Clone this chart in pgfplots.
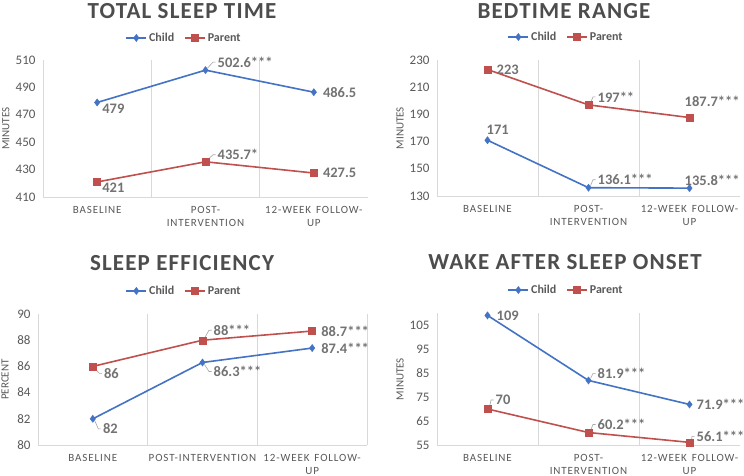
\documentclass[border=0pt]{standalone}
\usepackage{fontspec}
\setmainfont{Carlito}
\usepackage{pgfplots}
\pgfplotsset{compat=1.18}
\definecolor{cblue}{HTML}{4472C4}
\definecolor{cred}{HTML}{C0504D}
\definecolor{gridc}{HTML}{D9D9D9}
\definecolor{tickc}{HTML}{595959}
\definecolor{labc}{HTML}{737373}
\definecolor{titc}{HTML}{4D4D4D}
\definecolor{ldc}{HTML}{A6A6A6}
\newcommand\xtf{\fontsize{11bp}{12.5bp}\selectfont\addfontfeature{LetterSpace=8}}
\newcommand\ytf{\fontsize{13bp}{15bp}\selectfont}
\newcommand\dlf{\fontsize{14.5bp}{16bp}\selectfont\bfseries}
\newcommand\ttf{\fontsize{23bp}{26bp}\selectfont\bfseries\addfontfeature{LetterSpace=5}}
\newcommand\lgf{\fontsize{12bp}{14bp}\selectfont\bfseries}
\newcommand\ldr[5]{\draw[ldc, line width=0.6bp] ([shift={(2bp,#5)}]axis cs:#1,#2) -- ([shift={(#3-4.5bp,#4)}]axis cs:#1,#2) -- ([shift={(#3-2bp,#4)}]axis cs:#1,#2);}
\tikzset{dl/.style={font=\dlf, text=labc, anchor=west, inner sep=0pt}}
\pgfplotsset{
  panel/.style={
    scale only axis,
    xmin=-0.5, xmax=2.5,
    xtick={0,1,2},
    axis x line*=bottom, axis y line*=left,
    axis line style={draw=gridc, line width=0.75bp},
    major tick length=0pt,
    tick style={draw=none},
    clip=false,
    /pgf/number format/assume math mode=true,
    yticklabel style={font=\ytf, text=tickc, xshift=-4bp},
    xticklabel style={font=\xtf, text=tickc, align=center, yshift=-6bp},
    ylabel style={font=\fontsize{11bp}{13bp}\selectfont, text=tickc, anchor=center},
    extra x tick labels={},
    extra x tick style={grid=major, major grid style={draw=gridc, line width=0.75bp}},
    legend columns=2,
    legend style={draw=none, fill=none, font=\lgf, text=tickc, anchor=center, /tikz/every even column/.append style={column sep=8bp}},
    legend image code/.code={\draw[mark repeat=2, mark phase=2, ##1] plot coordinates {(0bp,0bp) (10bp,0bp) (20bp,0bp)};},
  },
  child/.style={cblue, line width=1.6bp, mark=diamond*, mark size=3.6bp, mark options={solid, line width=0.4bp, fill=cblue, draw=cblue}},
  parent/.style={cred, line width=1.6bp, mark=square*, mark size=3.5bp, mark options={solid, line width=0.4bp, fill=cred, draw=cred}},
}
\begin{document}
\begin{tikzpicture}
\fill[white] (0,0) rectangle (744bp,-476bp);
\useasboundingbox (0,0) rectangle (744bp,-476bp);

% Panel 1: Total sleep time
\begin{axis}[panel, at={(43bp,-197bp)}, anchor=south west, width=325bp, height=137bp,
  ymin=410, ymax=510, ytick={410,430,...,510},
  extra x ticks={0.5,1.5},
  xticklabels={BASELINE,{POST-\\INTERVENTION},{12-WEEK\hspace{5bp}FOLLOW-\\UP}},
  ylabel={MINUTES}, ylabel style={at={(axis description cs:-0.114,0.5)}},
  legend style={at={(axis description cs:0.434,1.161)}}]
\addplot[child] coordinates {(0,479) (1,502.6) (2,486.5)};
\addlegendentry{Child}
\addplot[parent] coordinates {(0,421) (1,435.7) (2,427.5)};
\addlegendentry{Parent}
\node[dl, xshift=5bp, yshift=-6bp] at (axis cs:0,479) {479};
\node[dl, xshift=12bp, yshift=8bp] at (axis cs:1,502.6) {502.6***};
\ldr{1}{502.6}{12bp}{8bp}{2bp}
\node[dl, xshift=9bp] at (axis cs:2,486.5) {486.5};
\node[dl, xshift=5bp, yshift=-6bp] at (axis cs:0,421) {421};
\node[dl, xshift=12bp, yshift=7bp] at (axis cs:1,435.7) {435.7*};
\ldr{1}{435.7}{12bp}{7bp}{2bp}
\node[dl, xshift=9bp] at (axis cs:2,427.5) {427.5};
\end{axis}

% Panel 2: Bedtime range
\begin{axis}[panel, at={(437bp,-196bp)}, anchor=south west, width=303bp, height=136bp,
  ymin=130, ymax=230, ytick={130,150,...,230},
  extra x ticks={0.5,1.5},
  xticklabels={BASELINE,{POST-\\INTERVENTION},{12-WEEK\hspace{5bp}FOLLOW-\\UP}},
  ylabel={MINUTES}, ylabel style={at={(axis description cs:-0.122,0.5)}},
  legend style={at={(axis description cs:0.426,1.169)}}]
\addplot[child] coordinates {(0,171) (1,136.1) (2,135.8)};
\addlegendentry{Child}
\addplot[parent] coordinates {(0,223) (1,197) (2,187.7)};
\addlegendentry{Parent}
\node[dl, xshift=9bp] at (axis cs:0,223) {223};
\node[dl, xshift=9bp, yshift=8bp] at (axis cs:1,197) {197**};
\ldr{1}{197}{9bp}{8bp}{2bp}
\node[dl, xshift=-5bp, yshift=16bp] at (axis cs:2,187.7) {187.7***};
\node[dl, xshift=-1bp, yshift=10bp] at (axis cs:0,171) {171};
\node[dl, xshift=9bp, yshift=8bp] at (axis cs:1,136.1) {136.1***};
\ldr{1}{136.1}{9bp}{8bp}{2bp}
\node[dl, xshift=-5bp, yshift=8bp] at (axis cs:2,135.8) {135.8***};
\end{axis}

% Panel 3: Sleep efficiency
\begin{axis}[panel, at={(38bp,-445bp)}, anchor=south west, width=329bp, height=131bp,
  ymin=80, ymax=90, ytick={80,82,...,90},
  extra x ticks={0.5,1.5,2.5},
  xticklabels={BASELINE,POST-INTERVENTION,{12-WEEK\hspace{5bp}FOLLOW-\\UP}},
  ylabel={PERCENT}, ylabel style={at={(axis description cs:-0.1,0.5)}},
  legend style={at={(axis description cs:0.444,1.176)}}]
\addplot[child] coordinates {(0,82) (1,86.3) (2,87.4)};
\addlegendentry{Child}
\addplot[parent] coordinates {(0,86) (1,88) (2,88.7)};
\addlegendentry{Parent}
\node[dl, xshift=11bp, yshift=-7bp] at (axis cs:0,86) {86};
\ldr{0}{86}{11bp}{-7bp}{-2bp}
\node[dl, xshift=11bp, yshift=10bp] at (axis cs:1,88) {88***};
\ldr{1}{88}{11bp}{10bp}{2bp}
\node[dl, xshift=9bp] at (axis cs:2,88.7) {88.7***};
\node[dl, xshift=10bp, yshift=-10bp] at (axis cs:0,82) {82};
\ldr{0}{82}{10bp}{-10bp}{-2bp}
\node[dl, xshift=11bp, yshift=-9bp] at (axis cs:1,86.3) {86.3***};
\ldr{1}{86.3}{11bp}{-9bp}{-2bp}
\node[dl, xshift=9bp] at (axis cs:2,87.4) {87.4***};
\end{axis}

% Panel 4: Wake after sleep onset
\begin{axis}[panel, at={(437bp,-445bp)}, anchor=south west, width=303bp, height=132bp,
  ymin=55, ymax=110, ytick={55,65,...,105},
  extra x ticks={0.5,1.5},
  xticklabels={BASELINE,{POST-\\INTERVENTION},{12-WEEK\hspace{5bp}FOLLOW-\\UP}},
  ylabel={MINUTES}, ylabel style={at={(axis description cs:-0.122,0.5)}},
  legend style={at={(axis description cs:0.426,1.174)}}]
\addplot[child] coordinates {(0,109) (1,81.9) (2,71.9)};
\addlegendentry{Child}
\addplot[parent] coordinates {(0,70) (1,60.2) (2,56.1)};
\addlegendentry{Parent}
\node[dl, xshift=9bp] at (axis cs:0,109) {109};
\node[dl, xshift=9bp, yshift=7bp] at (axis cs:1,81.9) {81.9***};
\ldr{1}{81.9}{9bp}{7bp}{2bp}
\node[dl, xshift=7bp] at (axis cs:2,71.9) {71.9***};
\node[dl, xshift=8bp, yshift=9bp] at (axis cs:0,70) {70};
\ldr{0}{70}{8bp}{9bp}{2bp}
\node[dl, xshift=9bp, yshift=8bp] at (axis cs:1,60.2) {60.2***};
\ldr{1}{60.2}{9bp}{8bp}{2bp}
\node[dl, xshift=7bp, yshift=6bp] at (axis cs:2,56.1) {56.1***};
\ldr{2}{56.1}{7bp}{6bp}{2bp}
\end{axis}

\node[font=\ttf, text=titc] at (182bp,-11bp) {TOTAL SLEEP TIME};
\node[font=\ttf, text=titc] at (564bp,-11bp) {BEDTIME RANGE};
\node[font=\ttf, text=titc] at (182bp,-263bp) {SLEEP EFFICIENCY};
\node[font=\ttf, text=titc] at (565bp,-262bp) {WAKE AFTER SLEEP ONSET};
\end{tikzpicture}
\end{document}
